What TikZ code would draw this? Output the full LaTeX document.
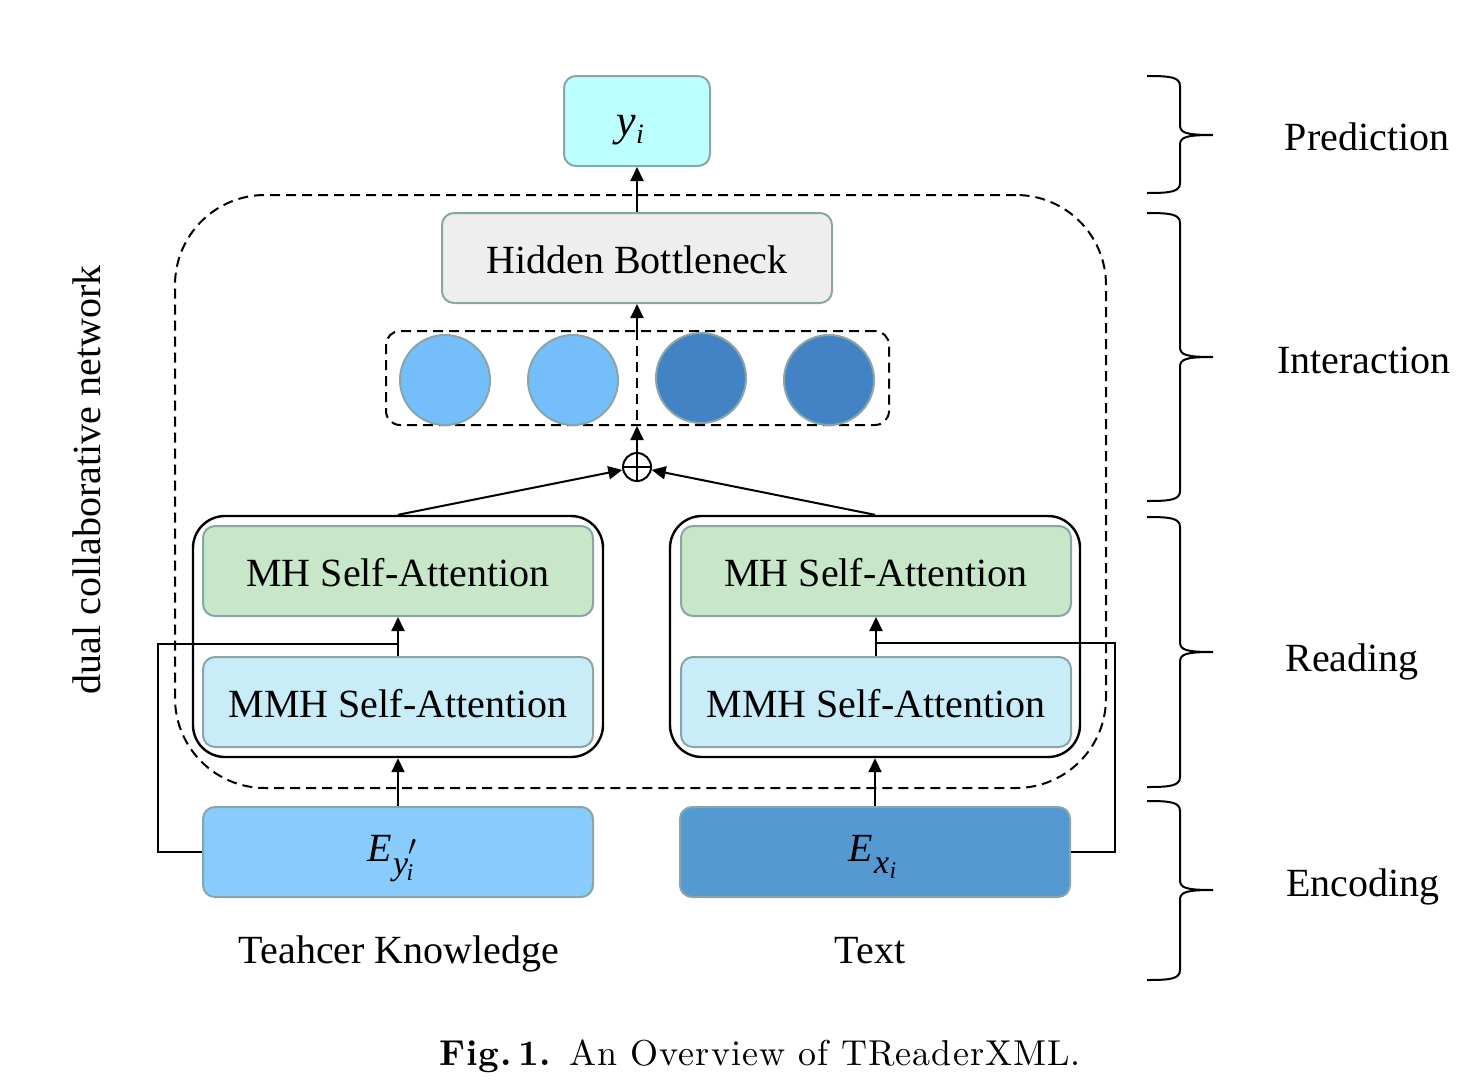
\documentclass[tikz,border=0pt]{standalone}
\usepackage{fontspec}
\newfontfamily\tnr{Liberation Serif}
\newfontfamily\lmcap{lmroman10-regular.otf}[BoldFont=lmroman10-bold.otf, LetterSpace=2.9]
\usetikzlibrary{arrows.meta,calc}
\definecolor{bordc}{RGB}{138,165,165}
\definecolor{cyanf}{RGB}{187,255,255}
\definecolor{hbf}{RGB}{238,238,238}
\definecolor{mhf}{RGB}{200,230,200}
\definecolor{mmhf}{RGB}{200,236,248}
\definecolor{eyf}{RGB}{136,204,253}
\definecolor{exf}{RGB}{85,153,211}
\definecolor{clight}{RGB}{116,190,252}
\definecolor{cdark}{RGB}{66,131,198}
\tikzset{
  box/.style={draw=bordc, line width=1pt, rounded corners=6pt, minimum width=195pt, minimum height=45pt, inner sep=0pt, text height=15pt, text depth=0pt, font=\tnr\fontsize{20}{24}\selectfont},
  outerbox/.style={draw=black, line width=1.2pt, rounded corners=16pt, minimum width=205pt, minimum height=120.5pt, inner sep=0pt},
  neuron/.style={circle, draw=bordc, line width=1pt, minimum size=45pt, inner sep=0pt},
  arr/.style={line width=1pt, -{Triangle[length=7pt,width=6.5pt]}},
  conn/.style={line width=1pt},
  dsh/.style={line width=1pt, dash pattern=on 5pt off 3pt},
  lbl/.style={font=\tnr\fontsize{20}{24}\selectfont, inner sep=0pt},
  brc/.style={line width=1pt}
}
\newcommand{\mybrace}[3]{%
  \draw[brc] (1147,#1) .. controls (1170,#1) and (1180,#1+1) .. (1180,#1+10)
    -- (1180,#2-10) .. controls (1180,#2-2) and (1186,#2) .. (1213,#2)
    .. controls (1186,#2) and (1180,#2+2) .. (1180,#2+10)
    -- (1180,#3-10) .. controls (1180,#3-1) and (1170,#3) .. (1147,#3);}
\begin{document}
\begin{tikzpicture}[x=0.5pt,y=-0.5pt]
\useasboundingbox (0,0) rectangle (1467,1082);
% big dashed frame
\node[dsh, draw, rounded corners=45pt, minimum width=465.5pt, minimum height=296.5pt, inner sep=0pt] (frame) at (640.5,491.5) {};
% top
\node[box, fill=cyanf, minimum width=73pt, text height=16pt, text depth=2pt] (yi) at (637,121) {\itshape{\fontsize{22}{24}\selectfont y}\kern0.3pt\raisebox{-4pt}{\fontsize{14}{16}\selectfont i}\kern7pt};
\node[box, fill=hbf] (hb) at (637,258) {Hidden Bottleneck};
% circles
\node[dsh, draw, rounded corners=7pt, minimum width=251.5pt, minimum height=47pt, inner sep=0pt] (cbox) at (637.5,378) {};
\node[neuron, fill=clight] (c1) at (445,380) {};
\node[neuron, fill=clight] (c2) at (573,380) {};
\node[neuron, fill=cdark] (c3) at (701,378) {};
\node[neuron, fill=cdark] (c4) at (829,380) {};
\draw[dsh] (hb.south |- cbox.north) -- (hb.south |- cbox.south);
% oplus
\node[circle, draw, line width=1pt, minimum size=14pt, inner sep=0pt] (op) at (637,467) {};
\draw[conn] (op.north) -- (op.south) (op.west) -- (op.east);
% reading blocks
\node[outerbox] (lout) at (398,636.5) {};
\node[outerbox] (rout) at (875,636.5) {};
\node[box, fill=mhf] (lmh) at (398,571) {MH Self-Attention};
\node[box, fill=mmhf] (lmmh) at (398,702) {MMH Self-Attention};
\node[box, fill=mhf] (rmh) at (876,571) {MH Self-Attention};
\node[box, fill=mmhf] (rmmh) at (876,702) {MMH Self-Attention};
% encodings
\node[box, fill=eyf, text height=14pt, text depth=5pt] (ley) at (398,852) {\itshape E\kern0.5pt\raisebox{-6.5pt}{\fontsize{17}{19}\selectfont y}\kern0.3pt\rlap{\raisebox{2.9pt}{\fontsize{14}{16}\selectfont$\prime$}}\kern-1pt\raisebox{-9.5pt}{\fontsize{12}{14}\selectfont i}\kern7.5pt};
\node[box, fill=exf, text height=14pt, text depth=5pt] (rex) at (875,852) {\itshape E\kern0.5pt\raisebox{-6pt}{\fontsize{17}{19}\selectfont x}\kern0.3pt\raisebox{-8.5pt}{\fontsize{12}{14}\selectfont i}\kern2.5pt};
\node[lbl] (tk) at (399,954) {Teahcer Knowledge};
\node[lbl] (tx) at (870,951) {Text};
% side label
\node[lbl, rotate=90] (dcn) at (87,480) {dual collaborative network};
% connectors
\draw[arr] (hb.north) -- (yi.south);
\draw[arr] (hb.south |- cbox.north) -- (hb.south);
\draw[arr] (op.north) -- (hb.south |- cbox.south);
\draw[arr] (lout.north) -- (op);
\draw[arr] (rout.north) -- (op);
\draw[arr] (lmmh.north) -- (lmh.south);
\draw[arr] (rmmh.north) -- (rmh.south);
\draw[arr] (ley.north) -- (lout.south);
\draw[arr] (rex.north) -- (rout.south);
\coordinate (lturn) at (158,644);
\coordinate (ljoin) at (398,644);
\coordinate (rturn) at (1115,643);
\coordinate (rjoin) at (876,643);
\draw[conn] (ley.west) -| (lturn) -- (ljoin);
\draw[conn] (rex.east) -| (rturn) -- (rjoin);
% braces
\mybrace{76}{135}{193}
\mybrace{213}{357}{501}
\mybrace{517}{652}{787}
\mybrace{801}{890}{980}
\node[lbl] (lp) at (1367,137) {Prediction};
\node[lbl] (li) at (1364,360) {Interaction};
\node[lbl] (lr) at (1352,662) {Reading};
\node[lbl] (le) at (1363,887) {Encoding};
% caption
\node[inner sep=0pt, font=\lmcap\fontsize{18}{22}\selectfont] (cap) at (760,1056) {\textbf{Fig.\,1.} An Overview of TReaderXML.};
\end{tikzpicture}
\end{document}
